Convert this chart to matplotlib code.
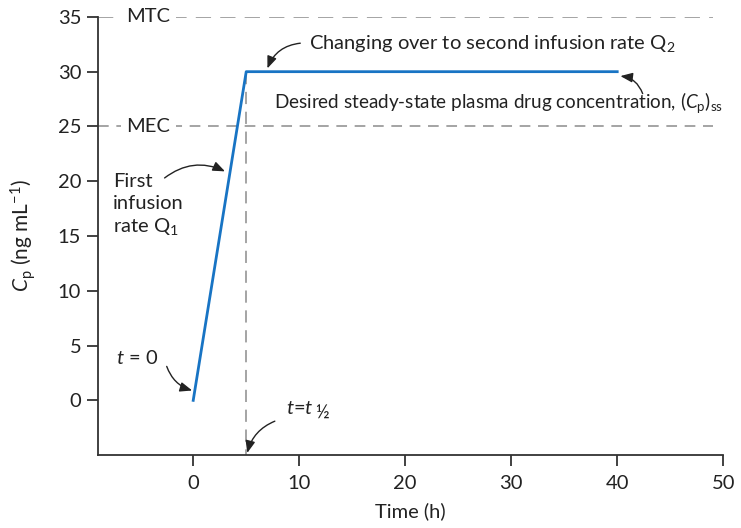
import matplotlib
matplotlib.use("Agg")
import matplotlib.pyplot as plt

# Plasma concentration profile (time in h, Cp in ng/mL)
time_h = [0, 5, 40]
cp = [0, 30, 30]
mtc = 35
mec = 25
t_half = 5

x_ticks = [0, 10, 20, 30, 40, 50]
y_ticks = [0, 5, 10, 15, 20, 25, 30, 35]

FONT = "Lato"
FS = 14.5
plt.rcParams["font.family"] = [FONT, "DejaVu Sans"]
plt.rcParams["mathtext.fontset"] = "custom"
plt.rcParams["mathtext.rm"] = FONT
plt.rcParams["mathtext.it"] = FONT + ":italic"
plt.rcParams["mathtext.bf"] = FONT + ":bold"
plt.rcParams["font.size"] = FS

fig = plt.figure(figsize=(7.41, 5.28), dpi=100)
ax = fig.add_axes([0.132, 0.138, 0.844, 0.830])

ax.set_xlim(-9, 50)
ax.set_ylim(-5, 35)

txt_col = "#222222"
dash_col = "#8c8c8c"
# Reference concentration levels
for level, name, dsh in [(mtc, "MTC", (10, 6)), (mec, "MEC", (7, 5))]:
    ax.plot([-9, 49], [level, level], color=dash_col, lw=1.1,
            dashes=dsh, zorder=1)
    ax.text(-6.3, level, name, ha="left", va="center", fontsize=FS,
            color=txt_col,
            bbox=dict(facecolor="white", edgecolor="none", pad=4), zorder=2)

# Half-life marker
ax.plot([t_half, t_half], [cp[1], -5], color=dash_col, lw=1.1,
        dashes=(8, 5), zorder=1)

ax.plot(time_h, cp, color="#1874c4", lw=2.0, zorder=3)

for s in ["top", "right"]:
    ax.spines[s].set_visible(False)
for s in ["left", "bottom"]:
    ax.spines[s].set_color("#333333")
    ax.spines[s].set_linewidth(1.3)

ax.set_xticks(x_ticks)
ax.set_yticks(y_ticks)
ax.tick_params(axis="both", direction="out", length=8, width=1.3,
               color="#333333", labelsize=FS, labelcolor=txt_col)
ax.tick_params(axis="y", pad=4)
ax.tick_params(axis="x", pad=6)

ax.set_xlabel("Time (h)", fontsize=FS, color=txt_col, labelpad=8)
ax.set_ylabel(r"$C_{\mathrm{p}}$ (ng mL$^{-1}$)", fontsize=FS + 0.5,
              color=txt_col, labelpad=14)

arrow = dict(arrowstyle="-|>,head_length=0.5,head_width=0.2",
             color=txt_col, lw=1.0, shrinkA=0, shrinkB=0)

ax.text(10.9, 32.6, r"Changing over to second infusion rate Q$_2$",
        ha="left", va="center", fontsize=FS, color=txt_col)
ax.annotate("", xy=(7.0, 30.3), xytext=(10.1, 32.6),
            arrowprops=dict(arrow, connectionstyle="arc3,rad=0.3"))

ax.text(7.6, 27.2,
        r"Desired steady-state plasma drug concentration, ($C_{\mathrm{p}}$)$_{\mathrm{ss}}$",
        ha="left", va="center", fontsize=13.6, color=txt_col)
ax.annotate("", xy=(40.3, 29.6), xytext=(42.4, 28.0),
            arrowprops=dict(arrow, connectionstyle="arc3,rad=0.3"))

ax.text(-7.6, 17.8, "First\ninfusion\nrate Q$_1$", ha="left", va="center",
        fontsize=FS, color=txt_col, linespacing=1.3)
ax.annotate("", xy=(3.0, 20.9), xytext=(-2.7, 20.3),
            arrowprops=dict(arrow, connectionstyle="arc3,rad=-0.3"))

ax.text(-7.3, 3.9, r"$t$ = 0", ha="left", va="center", fontsize=FS,
        color=txt_col)
ax.annotate("", xy=(-0.1, 0.9), xytext=(-2.5, 3.1),
            arrowprops=dict(arrow, connectionstyle="arc3,rad=0.25"))

t_lbl = ax.text(8.8, -0.7, r"$t$=$t$", ha="left", va="center", fontsize=FS,
                color=txt_col)
ax.annotate("½", xy=(1, 0), xycoords=t_lbl, xytext=(0.5, -4),
            textcoords="offset points", ha="left", va="bottom",
            fontsize=FS - 1, color=txt_col)
ax.annotate("", xy=(5.1, -4.8), xytext=(7.7, -1.9),
            arrowprops=dict(arrow, connectionstyle="arc3,rad=0.25"))

fig.savefig("out.png", dpi=100)
